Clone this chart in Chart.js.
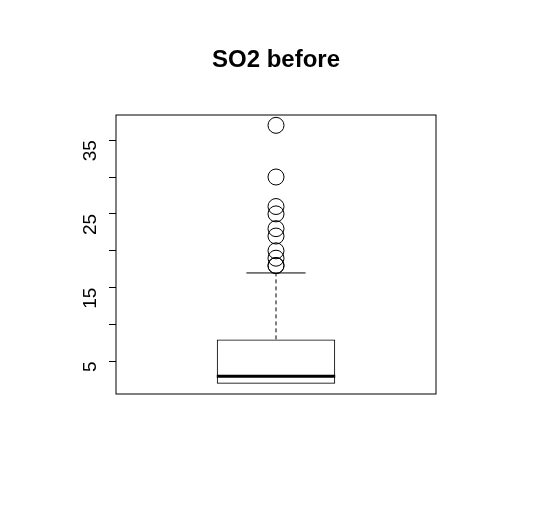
<!DOCTYPE html>
<html>
<head>
<script src="https://cdn.jsdelivr.net/npm/chart.js@4"></script>
<style>body{margin:0;background:#fff}#wrap{width:551px;height:509px}</style>
</head>
<body>
<div id="wrap"><canvas id="c"></canvas></div>
<script>
const categories = ['SO2 before'];
const boxLow = 2, boxMedian = 3, boxHigh = 8;
const whiskerLow = 2, whiskerHigh = 17;
const outliers = [37, 30, 26, 25, 23, 22, 20, 19, 18, 18];
const tickValues = [5, 10, 15, 20, 25, 30, 35];

const boxPlugin = {
  id: 'boxExtras',
  afterDatasetsDraw(chart) {
    const ctx = chart.ctx, y = chart.scales.y, a = chart.chartArea;
    const bar = chart.getDatasetMeta(0).data[0];
    const cx = bar.x, half = bar.width / 2;
    ctx.save();
    ctx.strokeStyle = '#000';
    ctx.lineWidth = 3;
    ctx.beginPath();
    ctx.moveTo(cx - half, y.getPixelForValue(boxMedian));
    ctx.lineTo(cx + half, y.getPixelForValue(boxMedian));
    ctx.stroke();
    ctx.lineWidth = 1;
    ctx.setLineDash([4, 3]);
    ctx.beginPath();
    ctx.moveTo(cx, y.getPixelForValue(boxHigh));
    ctx.lineTo(cx, y.getPixelForValue(whiskerHigh));
    ctx.stroke();
    ctx.setLineDash([]);
    ctx.beginPath();
    ctx.moveTo(cx - half / 2, y.getPixelForValue(whiskerHigh));
    ctx.lineTo(cx + half / 2, y.getPixelForValue(whiskerHigh));
    ctx.stroke();
    ctx.strokeRect(a.left, a.top, a.right - a.left, a.bottom - a.top);
    ctx.fillStyle = '#000';
    ctx.font = 'bold 24px "Liberation Sans", Arial, sans-serif';
    ctx.textAlign = 'center';
    ctx.textBaseline = 'middle';
    ctx.fillText(categories[0], (a.left + a.right) / 2, 60);
    ctx.restore();
  }
};

new Chart(document.getElementById('c'), {
  data: {
    labels: categories,
    datasets: [
      {
        type: 'bar',
        data: [[boxLow, boxHigh]],
        backgroundColor: 'rgba(0,0,0,0)',
        borderColor: '#000',
        borderWidth: 1,
        borderSkipped: false,
        barPercentage: 0.37,
        categoryPercentage: 1
      },
      {
        type: 'scatter',
        data: outliers.map(v => ({ x: categories[0], y: v })),
        pointRadius: 8,
        pointBackgroundColor: 'rgba(0,0,0,0)',
        pointBorderColor: '#000',
        pointBorderWidth: 1
      }
    ]
  },
  options: {
    responsive: true,
    maintainAspectRatio: false,
    animation: false,
    layout: { padding: { top: 115, right: 115, bottom: 115, left: 0 } },
    plugins: { legend: { display: false }, tooltip: { enabled: false } },
    scales: {
      x: { type: 'category', display: false, offset: true },
      y: {
        min: 0.6, max: 38.4,
        afterFit(s) { s.width = 116; },
        afterBuildTicks(s) { s.ticks = tickValues.map(v => ({ value: v })); },
        border: { display: false },
        grid: { drawOnChartArea: false, tickLength: 7, color: '#000' },
        ticks: {
          minRotation: 90, maxRotation: 90,
          color: '#000',
          font: { size: 19, family: '"Liberation Sans", Arial, sans-serif' },
          padding: 18,
          callback: v => (v % 10 === 5 ? v : '')
        }
      }
    }
  },
  plugins: [boxPlugin]
});
</script>
</body>
</html>
